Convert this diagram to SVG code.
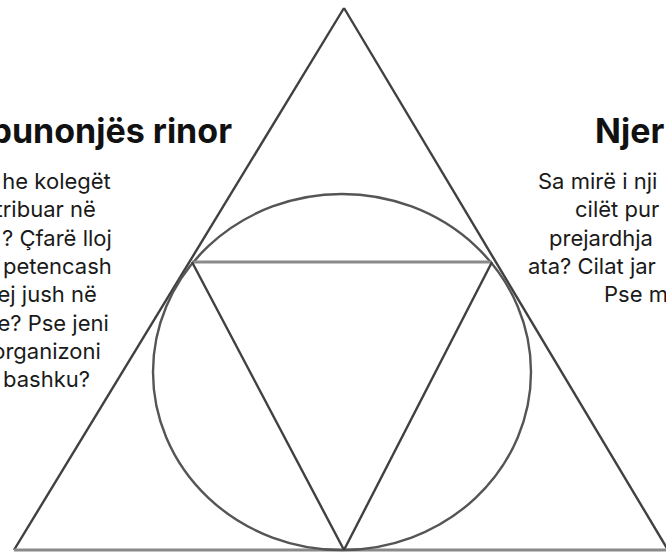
<svg xmlns="http://www.w3.org/2000/svg" width="666" height="556" viewBox="0 0 666 556">
<style>
.h{font-family:Inter,"Open Sans","Liberation Sans",sans-serif;font-weight:700;font-size:34px;fill:#111}
.b{font-family:Inter,"Open Sans","Liberation Sans",sans-serif;font-size:22px;fill:#1a1a1a}
.d{fill:none;stroke:#404040;stroke-width:2.4;stroke-linejoin:miter}
.e{fill:none;stroke:#555;stroke-width:2.4}
.hz{fill:none;stroke:#8a8a8a;stroke-width:2.8}
</style>
<rect width="666" height="556" fill="#fff"/>
<g id="connectors">
<line class="d" x1="344" y1="8" x2="14" y2="550"/>
<line class="d" x1="344" y1="8" x2="668" y2="550"/>
<line class="hz" x1="14" y1="550" x2="666" y2="550"/>
<ellipse class="e" cx="342" cy="372" rx="189" ry="178"/>
<line class="hz" x1="192" y1="262" x2="492" y2="262"/>
<line class="d" x1="192" y1="262" x2="344" y2="550"/>
<line class="d" x1="492" y1="262" x2="344" y2="550"/>
</g>
<g id="left-text">
<text class="h" x="232" y="143" text-anchor="end">punonjës rinor</text>
<text class="b" text-anchor="end">
<tspan x="117" y="189">he kolegët</tspan>
<tspan x="102" y="217">tribuar në</tspan>
<tspan x="118" y="246">? Çfarë lloj</tspan>
<tspan x="118" y="274">petencash</tspan>
<tspan x="103" y="302">ej jush në</tspan>
<tspan x="115" y="331">e? Pse jeni</tspan>
<tspan x="107" y="359">organizoni</tspan>
<tspan x="90" y="387">bashku?</tspan>
</text>
</g>
<g id="right-text">
<text class="h" x="595" y="143">Njer</text>
<text class="b">
<tspan x="538" y="189">Sa mirë i nji</tspan>
<tspan x="575" y="217">cilët pur</tspan>
<tspan x="549" y="246">prejardhja</tspan>
<tspan x="528" y="274">ata? Cilat jar</tspan>
<tspan x="604" y="302">Pse m</tspan>
</text>
</g>
</svg>
